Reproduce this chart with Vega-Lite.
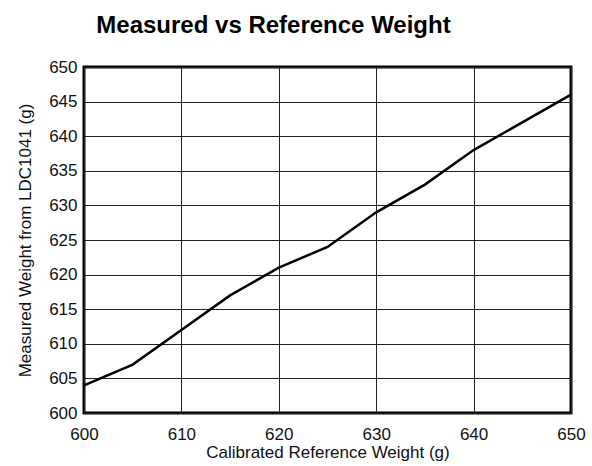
{
  "$schema": "https://vega.github.io/schema/vega-lite/v6.json",
  "width": 487,
  "height": 346,
  "autosize": "none",
  "padding": {"left": 84, "top": 67, "right": 21, "bottom": 53},
  "background": "white",
  "title": {
    "text": "Measured vs Reference Weight",
    "font": "Liberation Sans",
    "fontSize": 24,
    "fontWeight": "bold",
    "color": "black",
    "anchor": "middle",
    "dx": -54,
    "offset": 20
  },
  "config": {
    "view": {"stroke": "black", "strokeWidth": 3},
    "axis": {
      "labelFont": "Liberation Sans",
      "labelFontSize": 17,
      "labelColor": "#111",
      "titleFont": "Liberation Sans",
      "titleFontSize": 17,
      "titleFontWeight": "normal",
      "titleColor": "#111",
      "ticks": false,
      "domain": false,
      "labelFlush": false,
      "gridColor": "#222",
      "gridOpacity": 1,
      "gridWidth": 1
    }
  },
  "data": {
    "values": [
      {"ref": 600, "meas": 604},
      {"ref": 605, "meas": 607},
      {"ref": 610, "meas": 612},
      {"ref": 615, "meas": 617},
      {"ref": 620, "meas": 621},
      {"ref": 625, "meas": 624},
      {"ref": 630, "meas": 629},
      {"ref": 635, "meas": 633},
      {"ref": 640, "meas": 638},
      {"ref": 645, "meas": 642},
      {"ref": 650, "meas": 646}
    ]
  },
  "mark": {"type": "line", "color": "black", "strokeWidth": 2.5},
  "encoding": {
    "x": {
      "field": "ref",
      "type": "quantitative",
      "scale": {"domain": [600, 650], "nice": false, "zero": false},
      "axis": {"values": [600, 610, 620, 630, 640, 650], "title": "Calibrated Reference Weight (g)", "labelPadding": 13, "titlePadding": 2}
    },
    "y": {
      "field": "meas",
      "type": "quantitative",
      "scale": {"domain": [600, 650], "nice": false, "zero": false},
      "axis": {"values": [600, 605, 610, 615, 620, 625, 630, 635, 640, 645, 650], "title": "Measured Weight from LDC1041 (g)", "labelPadding": 7, "titlePadding": 14}
    }
  }
}
